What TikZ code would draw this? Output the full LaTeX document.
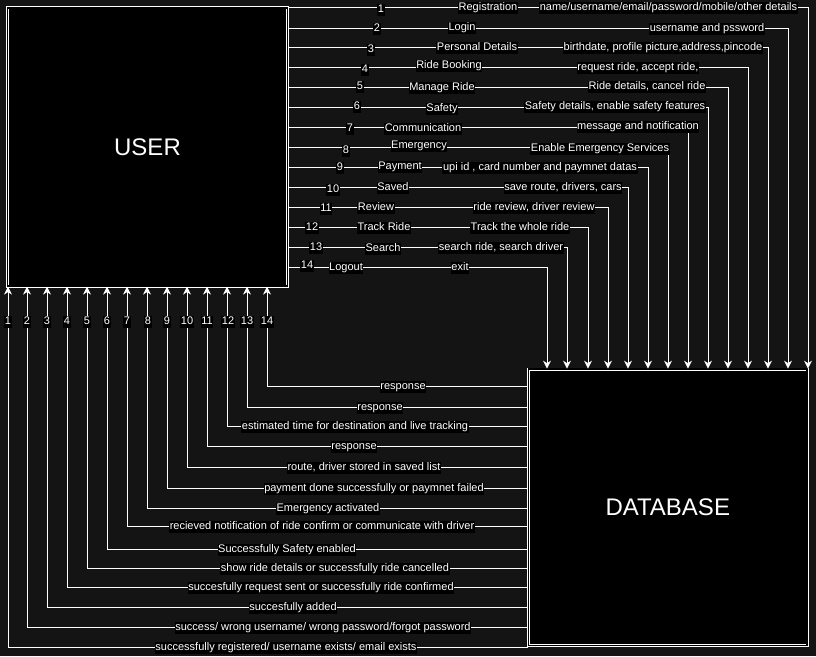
\documentclass[tikz,border=0pt]{standalone}
\usepackage{fontspec}
\setmainfont{Liberation Sans}
\usetikzlibrary{arrows.meta}
\definecolor{bg}{HTML}{141414}
\begin{document}
\begin{tikzpicture}[x=1pt,y=-1pt,
 box/.style={draw=white, double=black, double distance=1.6pt, line width=0.7pt, fill=black, text=white, font=\fontsize{24}{28}\selectfont, inner sep=0pt},
 conn/.style={draw=white, line width=0.9pt, -{Stealth[length=8pt,width=8pt,inset=2.5pt]}},
 lbl/.style={fill=black, text=white, font=\fontsize{11}{13}\selectfont, inner sep=0.6pt, text height=8.2pt, text depth=2.3pt, yshift=-1pt},
]
\fill[bg] (0,0) rectangle (816,656);
\useasboundingbox (0,0) rectangle (816,656);

\node[box, minimum width=280pt, minimum height=278.5pt] (user) at (147.5,147) {USER};
\node[box, minimum width=278.5pt, minimum height=276.5pt] (db) at (667.75,507.25) {DATABASE};

% requests user -> database
\foreach \y/\xd in {7/808,28/788,47/768,67/748,87/728,107/708,127/688,147/668,167/648,187/628,207/608,227/588,247/567,267/547}
  \draw[conn] (user.east |- 0,\y) -| (db.north -| \xd,0);

% responses database -> user
\foreach \y/\xu in {647/8,627/27,607/47,587/67,568/87,549/107,526/127,508/147,488/167,467/187,446/207,426/227,407/247,386/267}
  \draw[conn] (db.west |- 0,\y) -| (user.south -| \xu,0);

% number labels on request lines
\foreach \i/\x/\y in {1/381/9,2/377/28,3/371/49,4/365/69,5/360/86,6/357/106,7/350/128,8/346/150,9/340/167,10/333/189,11/326/208,12/312/227,13/316/247,14/307/265}
  \node[lbl] (n\i) at (\x,\y) {\i};

% action labels
\node[lbl] (a1) at (488,7) {Registration};
\node[lbl] (a2) at (462,27) {Login};
\node[lbl] (a3) at (477,47) {Personal Details};
\node[lbl] (a4) at (449,65) {Ride Booking};
\node[lbl] (a5) at (442,87) {Manage Ride};
\node[lbl] (a6) at (442,108) {Safety};
\node[lbl] (a7) at (423,128) {Communication};
\node[lbl] (a8) at (419,145) {Emergency};
\node[lbl] (a9) at (400,166) {Payment};
\node[lbl] (a10) at (393,187) {Saved};
\node[lbl] (a11) at (376,207) {Review};
\node[lbl] (a12) at (384,227) {Track Ride};
\node[lbl] (a13) at (383,248) {Search};
\node[lbl] (a14) at (346,267) {Logout};

% data labels
\node[lbl] (d1) at (668.5,7) {name/username/email/password/mobile/other details};
\node[lbl] (d2) at (707,28) {username and pssword};
\node[lbl] (d3) at (663,47) {birthdate, profile picture,address,pincode};
\node[lbl] (d4) at (638,67) {request ride, accept ride,};
\node[lbl] (d5) at (647,86) {Ride details, cancel ride};
\node[lbl] (d6) at (615,106) {Safety details, enable safety features};
\node[lbl] (d7) at (638,126) {message and notification};
\node[lbl] (d8) at (600,148) {Enable Emergency Services};
\node[lbl] (d9) at (540,167) {upi id , card number and paymnet datas};
\node[lbl] (d10) at (563,187) {save route, drivers, cars};
\node[lbl] (d11) at (534,207) {ride review, driver review};
\node[lbl] (d12) at (520,227) {Track the whole ride};
\node[lbl] (d13) at (501,247) {search ride, search driver};
\node[lbl] (d14) at (460,267) {exit};

% numbers under USER
\foreach \i/\x in {1/8,2/27,3/47,4/67,5/87,6/107,7/127,8/148,9/167,10/187,11/207,12/228,13/247,14/267}
  \node[lbl] (u\i) at (\x,321) {\i};

% response labels
\node[lbl] (r14) at (403,386) {response};
\node[lbl] (r13) at (380,407) {response};
\node[lbl] (r12) at (355,426) {estimated time for destination and live tracking};
\node[lbl] (r11) at (354,446) {response};
\node[lbl] (r10) at (364,467) {route, driver stored in saved list};
\node[lbl] (r9) at (374,488) {payment done successfully or paymnet failed};
\node[lbl] (r8) at (328,508) {Emergency activated};
\node[lbl] (r7) at (322,526) {recieved notification of ride confirm or communicate with driver};
\node[lbl] (r6) at (287,549) {Successfully Safety enabled};
\node[lbl] (r5) at (335,568) {show ride details or successfully ride cancelled};
\node[lbl] (r4) at (321,587) {succesfully request sent or successfully ride confirmed};
\node[lbl] (r3) at (293,607) {succesfully added };
\node[lbl] (r2) at (323,627) {success/ wrong username/ wrong password/forgot password};
\node[lbl] (r1) at (286,647) {successfully registered/ username exists/ email exists};
\end{tikzpicture}
\end{document}
